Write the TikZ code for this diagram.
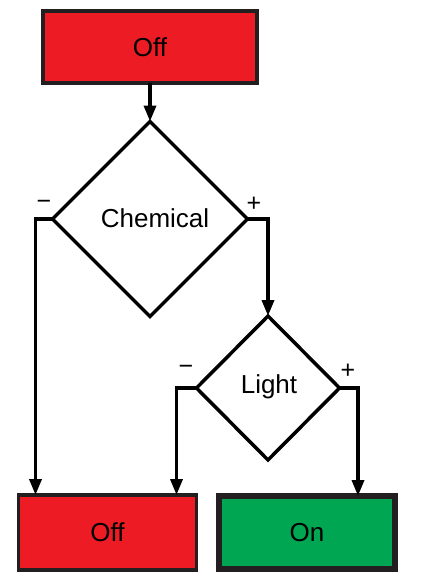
\documentclass[tikz,border=0pt]{standalone}
\usepackage{fontspec}
\setmainfont{Liberation Sans}
\usepackage{tikz}
\usetikzlibrary{arrows.meta, positioning, shapes.geometric, calc}
\definecolor{ffRed}{HTML}{ED1C24}
\definecolor{ffGreen}{HTML}{00A651}
\definecolor{ffLine}{HTML}{231F20}

\begin{document}
\begin{tikzpicture}[x=1pt, y=-1pt,
  box/.style={draw=ffLine, line width=3.5pt, fill=#1, inner sep=0pt, outer sep=0pt,
              minimum width=178pt, minimum height=75pt, font=\fontsize{26}{30}\selectfont},
  dec/.style={draw, diamond, line width=3.5pt, inner sep=0pt, outer sep=0pt, aspect=1},
  sgn/.style={font=\fontsize{25}{28}\selectfont, inner sep=0pt},
  arr/.style={-{Triangle[length=16pt, width=12pt]}, line width=3.5pt}
]
  \useasboundingbox (0,0) rectangle (423,581);

  \node[box=ffRed, minimum width=214pt, minimum height=72pt] (off) at (150,47) {Off};
  \node[dec, minimum width=195pt, minimum height=195pt] (chem) at (150,219) {};
  \node at (155,218) (chemtxt) {\fontsize{26}{30}\selectfont Chemical};
  \node[dec, minimum width=143pt, minimum height=144pt] (light) at (268,388) {};
  \node at (269,387) (lighttxt) {\fontsize{26}{30}\selectfont Light};
  \node[box=ffRed] (offL) at (107.5,532.5) {Off};
  \node[box=ffGreen, line width=5.5pt, minimum width=176pt, minimum height=73pt] (on) at (307,532.5) {On};

  \node[sgn] (cm) at (44,205) {−};
  \node[sgn] (cp) at (254,204) {+};
  \node[sgn] (lm) at (186,370) {−};
  \node[sgn] (lp) at (348,371) {+};

  \draw[arr] (off.south) -- (chem.north);
  \draw[arr] (chem.west) -| ([xshift=17pt]offL.north west);
  \draw[arr] (chem.east) -| (light.north);
  \draw[arr] (light.west) -| ([xshift=-20pt]offL.north east);
  \draw[arr] (light.east) -| ([xshift=-37pt]on.north east);
\end{tikzpicture}
\end{document}
